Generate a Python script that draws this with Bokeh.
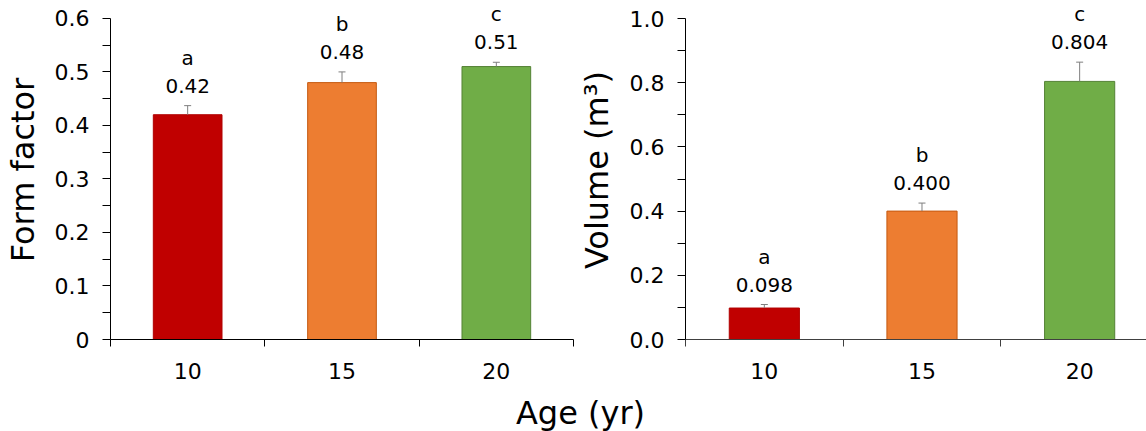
from bokeh.plotting import figure
from bokeh.models import (ColumnDataSource, FixedTicker, Whisker, TeeHead, Range1d, Label)
from bokeh.layouts import row, column
from bokeh.core.properties import value
from bokeh.embed import file_html
from bokeh.resources import INLINE

# ---------------- data ----------------
ages = ["10", "15", "20"]
colors = ["#C00000", "#ED7D31", "#70AD47"]
edge_colors = ["#B00000", "#C55A11", "#548235"]

form_factor = [0.42, 0.48, 0.51]
form_factor_err = [0.017, 0.02, 0.008]
form_factor_letters = ["a", "b", "c"]
form_factor_labels = ["0.42", "0.48", "0.51"]

volume = [0.098, 0.400, 0.804]
volume_err = [0.011, 0.025, 0.06]
volume_letters = ["a", "b", "c"]
volume_labels = ["0.098", "0.400", "0.804"]

ff_ticks = [0, 0.1, 0.2, 0.3, 0.4, 0.5, 0.6]
ff_tick_labels = ["0", "0.1", "0.2", "0.3", "0.4", "0.5", "0.6"]
ff_minor = [0.05, 0.15, 0.25, 0.35, 0.45, 0.55]
vol_ticks = [0.0, 0.2, 0.4, 0.6, 0.8, 1.0]
vol_tick_labels = ["0.0", "0.2", "0.4", "0.6", "0.8", "1.0"]
vol_minor = [0.1, 0.3, 0.5, 0.7, 0.9]

x_title = "Age (yr)"

FONT = "DejaVu Sans"
H = 390
TOP_PX = 18  # pixel position of the axis maximum


def make_panel(vals, errs, letters, labels, yticks, ylabels, yminor, ymax,
               ylabel, width, bl, bottom_px, br, xend, xaxis_color, ystandoff):
    # frame spans from the canvas top to bottom_px; axis max sits at TOP_PX
    yend = ymax * bottom_px / (bottom_px - TOP_PX)
    p = figure(width=width, height=H, output_backend="svg", toolbar_location=None,
               x_range=Range1d(0, xend), y_range=Range1d(0, yend),
               min_border_left=bl, min_border_top=0, min_border_bottom=H - bottom_px,
               min_border_right=br)
    p.outline_line_color = None
    p.grid.visible = False
    p.background_fill_color = "white"
    p.border_fill_color = "white"

    xs = [0.5 + i for i in range(len(vals))]
    src = ColumnDataSource(dict(
        x=xs, top=vals, upper=[v + e for v, e in zip(vals, errs)],
        fill=colors, edge=edge_colors, letter=letters, label=labels))
    p.vbar(x="x", top="top", bottom=0, width=0.445, source=src,
           fill_color="fill", line_color="edge", line_width=1)
    w = Whisker(base="x", lower="top", upper="upper", source=src,
                line_color="#7F7F7F", line_width=1,
                upper_head=TeeHead(size=7, line_color="#7F7F7F", line_width=1),
                lower_head=None, level="annotation")
    p.add_layout(w)
    p.text(x="x", y="upper", text="label", source=src, y_offset=-20,
           text_align="center", text_baseline="alphabetic",
           text_font=value(FONT), text_font_size="20px", text_color="black")
    p.text(x="x", y="upper", text="letter", source=src, y_offset=-48,
           text_align="center", text_baseline="alphabetic",
           text_font=value(FONT), text_font_size="20px", text_color="black")

    # x axis
    xa = p.xaxis[0]
    xa.ticker = FixedTicker(ticks=xs, minor_ticks=[0, 1, 2, 3])
    xa.major_label_overrides = {x: a for x, a in zip(xs, ages)}
    xa.major_tick_out = 0
    xa.major_tick_in = 0
    xa.minor_tick_out = 7
    xa.minor_tick_in = 0
    xa.major_label_standoff = 16
    xa.major_label_text_font = FONT
    xa.major_label_text_font_size = "22px"
    xa.major_label_text_color = "black"
    xa.axis_line_color = xaxis_color
    xa.minor_tick_line_color = xaxis_color
    xa.axis_line_width = 1

    # y axis
    ya = p.yaxis[0]
    ya.bounds = (0, ymax)
    ya.ticker = FixedTicker(ticks=yticks, minor_ticks=yminor)
    ya.major_label_overrides = {t: s for t, s in zip(yticks, ylabels)}
    ya.major_tick_out = 8
    ya.major_tick_in = 0
    ya.minor_tick_out = 8
    ya.minor_tick_in = 0
    ya.major_label_standoff = 13
    ya.major_label_text_font = FONT
    ya.major_label_text_font_size = "22px"
    ya.major_label_text_color = "black"
    ya.axis_line_color = "black"
    ya.major_tick_line_color = "black"
    ya.minor_tick_line_color = "black"
    ya.axis_label = ylabel
    ya.axis_label_text_font = FONT
    ya.axis_label_text_font_size = "32px"
    ya.axis_label_text_font_style = "normal"
    ya.axis_label_text_color = "black"
    ya.axis_label_standoff = ystandoff
    return p


p1 = make_panel(form_factor, form_factor_err, form_factor_letters, form_factor_labels,
                ff_ticks, ff_tick_labels, ff_minor, 0.6, "Form factor",
                width=574, bl=108, bottom_px=341, br=1, xend=3.0,
                xaxis_color="black", ystandoff=10)
p2 = make_panel(volume, volume_err, volume_letters, volume_labels,
                vol_ticks, vol_tick_labels, vol_minor, 1.0, "Volume (m³)",
                width=572, bl=110, bottom_px=339, br=0, xend=462 / 158,
                xaxis_color="#404040", ystandoff=11)

p3 = figure(width=1146, height=41, output_backend="svg", toolbar_location=None,
            x_range=Range1d(0, 1), y_range=Range1d(0, 1),
            x_axis_type=None, y_axis_type=None, min_border=0)
p3.outline_line_color = None
p3.grid.visible = False
p3.add_layout(Label(x=580, y=19, x_units="screen", y_units="screen", text=x_title,
                    text_align="center", text_baseline="alphabetic",
                    text_font=FONT, text_font_size="32px", text_color="black"))

layout = column(row(p1, p2), p3)
open("out.html", "w").write(file_html(layout, INLINE))
